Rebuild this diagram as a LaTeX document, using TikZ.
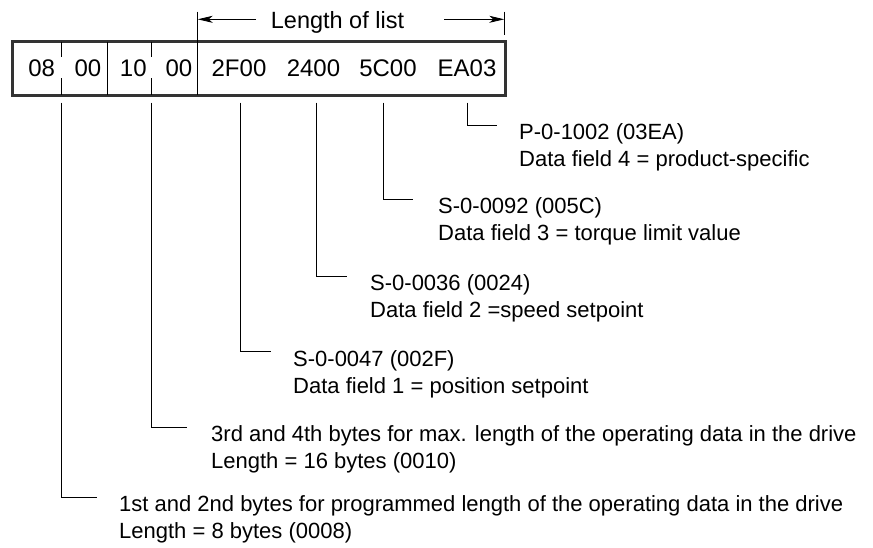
\documentclass[tikz,border=0pt]{standalone}
\usepackage{fontspec}
\setmainfont{Liberation Sans}
\usetikzlibrary{arrows.meta}
\newcommand{\twolines}[2]{\vtop{\baselineskip=27pt\hbox{#1}\hbox{#2}}}
\begin{document}
\begin{tikzpicture}[x=1pt,y=-1pt,
  lead/.style={line width=0.9pt},
  thinline/.style={line width=0.9pt},
  lbl/.style={anchor=base west, inner sep=0pt, font=\fontsize{22}{27}\selectfont},
  digit/.style={anchor=base, inner sep=0pt, font=\fontsize{24}{28}\selectfont},
  dimarrow/.style={line width=0.9pt, -{Stealth[length=15pt,width=7pt,inset=4pt]}},
  ]
\useasboundingbox (0,0) rectangle (873,547);
% register box
\node[draw=black!80, line width=3pt, minimum width=492.3pt, minimum height=53.3pt, inner sep=0pt] (reg) at (258.85,68.35) {};
% dividers
\coordinate (d1a) at (61.7,41.7);  \coordinate (d1b) at (61.7,57);
\coordinate (d1c) at (61.7,78);    \coordinate (d1d) at (61.7,95);
\coordinate (d3a) at (151.7,41.7); \coordinate (d3b) at (151.7,57);
\coordinate (d3c) at (151.7,78);   \coordinate (d3d) at (151.7,95);
\coordinate (d2a) at (107.7,41.7); \coordinate (d2b) at (107.7,95);
\coordinate (d4a) at (197.7,11.7); \coordinate (d4b) at (197.7,95);
\coordinate (rb1) at (504.3,11.7); \coordinate (rb2) at (504.3,35);
\draw[thinline] (d1a) -- (d1b) (d1c) -- (d1d);
\draw[thinline] (d3a) -- (d3b) (d3c) -- (d3d);
\draw[thinline] (d2a) -- (d2b);
\draw[thinline] (d4a) -- (d4b);
\draw[thinline] (rb1) -- (rb2);
% length of list
\node[anchor=base, inner sep=0pt, font=\fontsize{23.5}{28}\selectfont] (lol) at (337.5,28) {Length of list};
\coordinate (la1) at (256,19.3); \coordinate (la2) at (197.7,19.3);
\coordinate (ra1) at (444,19.3); \coordinate (ra2) at (504.3,19.3);
\draw[dimarrow] (la1) -- (la2);
\draw[dimarrow] (ra1) -- (ra2);
% digits
\node[digit] (b1) at (41.7,76.6) {08};
\node[digit] (b2) at (88,76.6) {00};
\node[digit] (b3) at (133.3,76.6) {10};
\node[digit] (b4) at (179,76.6) {00};
\node[digit] (w1) at (239,76.6) {2F00};
\node[digit] (w2) at (313.5,76.6) {2400};
\node[digit] (w3) at (388,76.6) {5C00};
\node[digit] (w4) at (467,76.6) {EA03};
% leaders
\coordinate (s1) at (467,102.7);   \coordinate (e1) at (497,125);
\coordinate (s2) at (383,102.7);   \coordinate (e2) at (413,199.3);
\coordinate (s3) at (316,102.7);   \coordinate (e3) at (347,276);
\coordinate (s4) at (240.4,102.7); \coordinate (e4) at (270.5,351.7);
\coordinate (s5) at (151.7,102.7); \coordinate (e5) at (187,427);
\coordinate (s6) at (61.7,102.7);  \coordinate (e6) at (97,497);
\draw[lead] (s1) |- (e1);
\draw[lead] (s2) |- (e2);
\draw[lead] (s3) |- (e3);
\draw[lead] (s4) |- (e4);
\draw[lead] (s5) |- (e5);
\draw[lead] (s6) |- (e6);
% labels
\node[lbl] (t1) at (519,139) {\twolines{P-0-1002 (03EA)}{Data field 4 = product-specific}};
\node[lbl] (t2) at (438,213) {\twolines{S-0-0092 (005C)}{Data field 3 = torque limit value}};
\node[lbl] (t3) at (370,290) {\twolines{S-0-0036 (0024)}{Data field 2 =speed setpoint}};
\node[lbl] (t4) at (293,366) {\twolines{S-0-0047 (002F)}{Data field 1 = position setpoint}};
\node[lbl] (t5) at (211,441) {\twolines{3rd and 4th bytes for max. length of the operating data in the drive}{Length = 16 bytes (0010)}};
\node[lbl] (t6) at (119,511) {\twolines{1st and 2nd bytes for programmed length of the operating data in the drive}{Length = 8 bytes (0008)}};
\end{tikzpicture}
\end{document}
